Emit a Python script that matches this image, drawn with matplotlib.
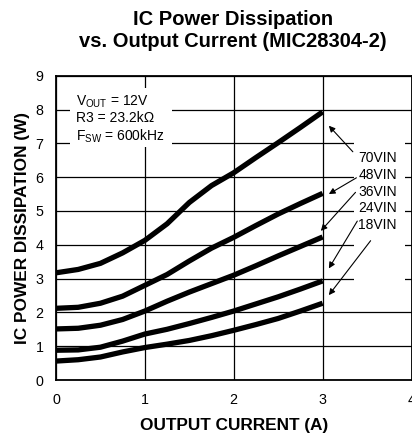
import matplotlib
matplotlib.use("Agg")
import matplotlib.pyplot as plt
from matplotlib.patches import Rectangle

plt.rcParams['font.family'] = ['Liberation Sans', 'DejaVu Sans']
plt.rcParams['mathtext.fontset'] = 'custom'
plt.rcParams['mathtext.rm'] = 'Liberation Sans'

# Data
current = [0, 0.25, 0.5, 0.75, 1.0, 1.25, 1.5, 1.75, 2.0, 2.25, 2.5, 2.75, 3.0]
p_70vin = [3.17, 3.27, 3.45, 3.76, 4.13, 4.62, 5.25, 5.75, 6.13, 6.58, 7.02, 7.47, 7.93]
p_48vin = [2.12, 2.15, 2.27, 2.48, 2.80, 3.12, 3.52, 3.90, 4.22, 4.57, 4.91, 5.22, 5.52]
p_36vin = [1.51, 1.53, 1.62, 1.79, 2.04, 2.33, 2.60, 2.85, 3.10, 3.38, 3.67, 3.95, 4.23]
p_24vin = [0.88, 0.89, 0.97, 1.15, 1.36, 1.50, 1.67, 1.85, 2.04, 2.25, 2.46, 2.69, 2.93]
p_18vin = [0.56, 0.60, 0.68, 0.83, 0.96, 1.06, 1.17, 1.31, 1.47, 1.64, 1.82, 2.04, 2.27]
series = [p_70vin, p_48vin, p_36vin, p_24vin, p_18vin]
series_labels = ['70VIN', '48VIN', '36VIN', '24VIN', '18VIN']
x_ticks = [0, 1, 2, 3, 4]
y_ticks = [0, 1, 2, 3, 4, 5, 6, 7, 8, 9]

fig = plt.figure(figsize=(4.12, 4.34), dpi=100)
W, H = 412, 434
ax = fig.add_axes([56 / W, 1 - 380 / H, (411.5 - 56) / W, (380 - 75.7) / H])
ax.set_xlim(0, 4)
ax.set_ylim(0, 9)
ax.set_xticks(x_ticks)
ax.set_yticks(y_ticks)
ax.tick_params(length=0, labelsize=10.3, pad=9, colors='black')
ax.grid(True, color='black', lw=0.9, zorder=1)
ax.set_axisbelow(True)
for s in ax.spines.values():
    s.set_linewidth(1.3)
    s.set_zorder(5)

# white boxes behind annotations
ax.add_patch(Rectangle((0.16, 6.9), 1.15, 1.74, facecolor='white', edgecolor='none', zorder=2))
ax.add_patch(Rectangle((3.35, 2.5), 0.58, 5.0, facecolor='white', edgecolor='none', zorder=2))

for ys in series:
    ax.plot(current, ys, color='black', lw=3.8, solid_capstyle='butt', solid_joinstyle='round', zorder=4)

ax.text(0.22, 8.23, r'V$_{\mathregular{OUT}}$ = 12V', fontsize=10, va='center', ha='left', zorder=6)
ax.text(0.22, 7.74, 'R3 = 23.2k\u03a9', fontsize=10, va='center', ha='left', zorder=6)
ax.text(0.22, 7.21, r'F$_{\mathregular{SW}}$ = 600kHz', fontsize=10, va='center', ha='left', zorder=6)

label_y = [6.56, 6.06, 5.55, 5.08, 4.58]
for lab, ly in zip(series_labels, label_y):
    ax.text(3.40, ly, lab, fontsize=10, va='center', ha='left', zorder=6)

arrow_tails = [(3.34, 6.75), (3.38, 5.98), (3.37, 5.55), (3.39, 4.70), (3.54, 4.12)]
arrow_heads = [(3.07, 7.52), (3.07, 5.50), (2.98, 4.41), (3.07, 3.30), (3.07, 2.51)]
for t, h in zip(arrow_tails, arrow_heads):
    ax.annotate('', xy=h, xytext=t,
                arrowprops=dict(arrowstyle='-|>', color='black', lw=0.8,
                                mutation_scale=9, shrinkA=0, shrinkB=0), zorder=6)

ax.set_xlabel('OUTPUT CURRENT (A)', fontsize=12.4, fontweight='bold', labelpad=8)
ax.set_ylabel('IC POWER DISSIPATION (W)', fontsize=12.4, fontweight='bold', labelpad=4)

fig.text(0.565, 1 - 10 / H, 'IC Power Dissipation\nvs. Output Current (MIC28304-2)',
         ha='center', va='top', fontsize=14.5, fontweight='bold', linespacing=1.2)

fig.savefig('out.png', dpi=100)
